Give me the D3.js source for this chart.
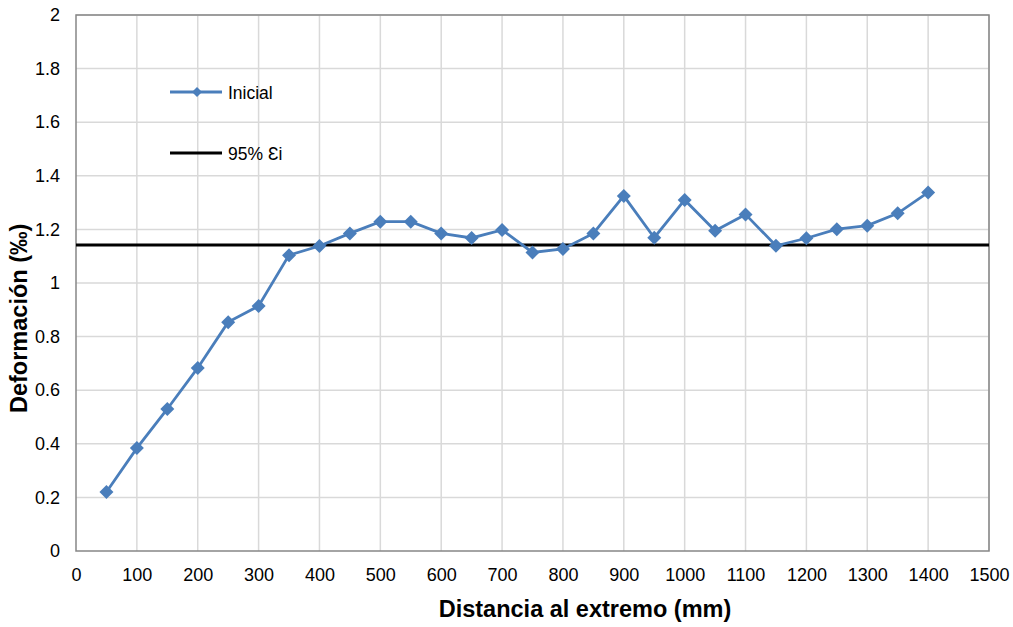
<!DOCTYPE html>
<html><head><meta charset="utf-8">
<script src="https://cdn.jsdelivr.net/npm/d3@7"></script>
<style>body{margin:0;background:#fff;}svg{display:block;font-family:"Liberation Sans",Arial,sans-serif;}</style>
</head><body><svg id="c" width="1013" height="627"></svg>
<script>
const distances = [50,100,150,200,250,300,350,400,450,500,550,600,650,700,750,800,850,900,950,1000,1050,1100,1150,1200,1250,1300,1350,1400];
const inicial = [0.220,0.384,0.530,0.683,0.854,0.914,1.104,1.138,1.185,1.229,1.229,1.185,1.168,1.198,1.114,1.127,1.185,1.325,1.169,1.310,1.195,1.256,1.139,1.167,1.201,1.214,1.260,1.338];
const threshold = 1.142;
const xTicks = d3.range(0,1501,100);
const yTicks = [0,0.2,0.4,0.6,0.8,1,1.2,1.4,1.6,1.8,2];

const svg = d3.select("#c");
const L=76,R=989,T=15,B=551;
const x = d3.scaleLinear().domain([0,1500]).range([L,R]);
const y = d3.scaleLinear().domain([0,2]).range([B,T]);
const FF = "Liberation Sans, Arial, sans-serif";

// grid
svg.append("g").selectAll("line").data(xTicks.slice(1)).join("line")
  .attr("x1",d=>x(d)).attr("x2",d=>x(d)).attr("y1",T).attr("y2",B)
  .attr("stroke","#d9d9d9").attr("stroke-width",1.5);
svg.append("g").selectAll("line").data(yTicks.slice(1)).join("line")
  .attr("x1",L).attr("x2",R).attr("y1",d=>y(d)).attr("y2",d=>y(d))
  .attr("stroke","#d9d9d9").attr("stroke-width",1.5);
// frame
svg.append("rect").attr("x",L).attr("y",T).attr("width",R-L).attr("height",B-T)
  .attr("fill","none").attr("stroke","#868686").attr("stroke-width",1.5);

// axes labels via d3 axis
const xa = svg.append("g").attr("transform",`translate(0,${B})`)
  .call(d3.axisBottom(x).tickValues(xTicks).tickSize(0).tickPadding(17).tickFormat(d3.format("d")));
xa.select(".domain").remove();
xa.selectAll("text").attr("font-size",18).attr("fill","#000").attr("font-family",FF);
const ya = svg.append("g").attr("transform",`translate(${L},0)`)
  .call(d3.axisLeft(y).tickValues(yTicks).tickSize(0).tickPadding(16).tickFormat(d=>String(d)));
ya.select(".domain").remove();
ya.selectAll("text").attr("font-size",18).attr("fill","#000").attr("font-family",FF);

// threshold line
svg.append("line").attr("x1",L).attr("x2",R).attr("y1",y(threshold)).attr("y2",y(threshold))
  .attr("stroke","#000").attr("stroke-width",3);

// series
const col = "#4a7ebb";
svg.append("path").datum(distances.map((d,i)=>[d,inicial[i]]))
  .attr("d",d3.line().x(d=>x(d[0])).y(d=>y(d[1])))
  .attr("fill","none").attr("stroke",col).attr("stroke-width",2.8);
const diamond = "M0,-7L7,0L0,7L-7,0Z";
svg.append("g").selectAll("path").data(distances.map((d,i)=>[d,inicial[i]])).join("path")
  .attr("transform",d=>`translate(${x(d[0])},${y(d[1])})`)
  .attr("d",diamond).attr("fill",col);

// legend
const lg = svg.append("g").attr("font-family",FF);
lg.append("line").attr("x1",170).attr("x2",222).attr("y1",92).attr("y2",92).attr("stroke",col).attr("stroke-width",2.8);
lg.append("path").attr("transform","translate(197,92)").attr("d","M0,-5L5,0L0,5L-5,0Z").attr("fill",col);
lg.append("text").attr("x",228).attr("y",98.5).attr("font-size",17.5).text("Inicial");
lg.append("line").attr("x1",170).attr("x2",222).attr("y1",153).attr("y2",153).attr("stroke","#000").attr("stroke-width",3);
lg.append("text").attr("x",228).attr("y",159.5).attr("font-size",17.5).text("95% Ɛi");

// titles
svg.append("text").attr("x",585).attr("y",617).attr("text-anchor","middle").attr("font-family",FF)
  .attr("font-size",23.5).attr("font-weight","bold").text("Distancia al extremo (mm)");
svg.append("text").attr("transform","translate(27,413) rotate(-90)").attr("text-anchor","start").attr("font-family",FF)
  .attr("font-size",23.5).attr("font-weight","bold").text("Deformación (‰)");
</script></body></html>
